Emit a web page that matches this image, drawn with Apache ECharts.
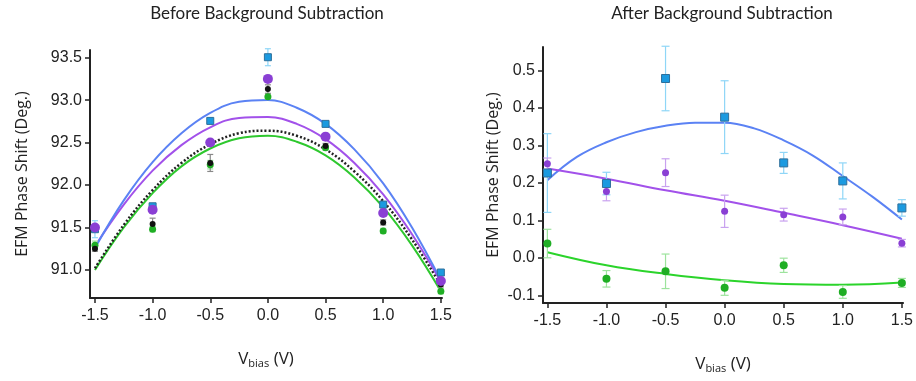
<!DOCTYPE html>
<html><head><meta charset="utf-8">
<script src="https://cdn.jsdelivr.net/npm/echarts@6/dist/echarts.min.js"></script>
<style>html,body{margin:0;padding:0;background:#fff}#c{width:916px;height:381px}</style>
</head><body><div id="c"></div>
<script>
// ---- data ----
const biasV = [-1.5, -1.0, -0.5, 0.0, 0.5, 1.0, 1.5];
const xTicks = [-1.5, -1.0, -0.5, 0.0, 0.5, 1.0, 1.5];
const leftYTicks = [91.0, 91.5, 92.0, 92.5, 93.0, 93.5];
const rightYTicks = [-0.1, 0.0, 0.1, 0.2, 0.3, 0.4, 0.5];

// Before background subtraction (measured points)
const beforeBlue   = [91.48, 91.75, 92.755, 93.505, 92.72, 91.77, 90.97];
const beforePurple = [91.50, 91.71, 92.50, 93.25, 92.57, 91.67, 90.87];
const beforeBlack  = [91.25, 91.54, 92.26, 93.13, 92.46, 91.56, 90.83];
const beforeGreen  = [91.29, 91.48, 92.24, 93.04, 92.44, 91.46, 90.75];
const beforeBlueErr   = [0.10, 0.03, 0.02, 0.10, 0.02, 0.03, 0.03];
const beforePurpleErr = [0.03, 0.03, 0.03, 0.03, 0.03, 0.03, 0.03];
const beforeBlackErr  = [0.03, 0.07, 0.10, 0.05, 0.03, 0.03, 0.03];
const beforeGreenErr  = [0.05, 0.03, 0.05, 0.03, 0.03, 0.03, 0.03];

// Before: fitted curves
const fitX = [-1.5, -1.25, -1.0, -0.75, -0.5, -0.25, 0.0, 0.25, 0.5, 0.75, 1.0, 1.25, 1.5];
const beforeBlueFit   = [91.26, 91.82, 92.27, 92.61, 92.85, 92.98, 93.00, 92.91, 92.72, 92.42, 92.02, 91.50, 90.88];
const beforePurpleFit = [91.28, 91.77, 92.17, 92.47, 92.68, 92.79, 92.80, 92.72, 92.54, 92.26, 91.89, 91.42, 90.86];
const beforeBlackFit  = [91.02, 91.53, 91.94, 92.26, 92.48, 92.61, 92.64, 92.58, 92.42, 92.16, 91.81, 91.36, 90.82];
const beforeGreenFit  = [91.00, 91.50, 91.905, 92.22, 92.43, 92.55, 92.58, 92.51, 92.35, 92.09, 91.74, 91.29, 90.75];

// After background subtraction (measured points)
const afterBlue   = [0.226, 0.198, 0.478, 0.375, 0.253, 0.205, 0.133];
const afterPurple = [0.251, 0.177, 0.227, 0.124, 0.115, 0.109, 0.039];
const afterGreen  = [0.038, -0.056, -0.036, -0.080, -0.020, -0.091, -0.067];
const afterBlueErr   = [0.105, 0.030, 0.086, 0.097, 0.028, 0.048, 0.022];
const afterPurpleErr = [0.015, 0.025, 0.037, 0.043, 0.017, 0.021, 0.010];
const afterGreenErr  = [0.038, 0.022, 0.046, 0.020, 0.019, 0.017, 0.012];

// After: fitted curves
const afterBlueFit   = [0.207, 0.269, 0.308, 0.335, 0.352, 0.360, 0.360, 0.345, 0.313, 0.272, 0.218, 0.163, 0.102];
const fitX7 = [-1.5, -1.0, -0.5, 0.0, 0.5, 1.0, 1.5];
const afterPurpleFit = [0.238, 0.211, 0.180, 0.152, 0.120, 0.087, 0.051];
const afterGreenFit  = [0.015, -0.020, -0.043, -0.060, -0.070, -0.072, -0.066];

// ---- helpers ----
const pairs = (xs, ys) => xs.map((x, i) => [x, ys[i]]);
const errData = (xs, ys, es) => xs.map((x, i) => [x, ys[i] - es[i], ys[i] + es[i]]);

function errSeries(idx, xs, ys, es, color, cap) {
  return {
    type: 'custom', xAxisIndex: idx, yAxisIndex: idx, z: 3, silent: true,
    data: errData(xs, ys, es),
    renderItem: function (params, api) {
      const lo = api.coord([api.value(0), api.value(1)]);
      const hi = api.coord([api.value(0), api.value(2)]);
      const st = { stroke: color, lineWidth: 1.2 };
      return { type: 'group', children: [
        { type: 'line', shape: { x1: lo[0], y1: lo[1], x2: hi[0], y2: hi[1] }, style: st },
        { type: 'line', shape: { x1: lo[0] - cap, y1: lo[1], x2: lo[0] + cap, y2: lo[1] }, style: st },
        { type: 'line', shape: { x1: hi[0] - cap, y1: hi[1], x2: hi[0] + cap, y2: hi[1] }, style: st }
      ]};
    }
  };
}
function fitSeries(idx, xs, ys, color, type, width) {
  return { type: 'line', xAxisIndex: idx, yAxisIndex: idx, data: pairs(xs, ys), smooth: 0.4,
    showSymbol: false, silent: true, z: 2,
    lineStyle: { color: color, width: width || 2, type: type || 'solid' } };
}
function ptSeries(idx, xs, ys, color, symbol, size, border) {
  return { type: 'scatter', xAxisIndex: idx, yAxisIndex: idx, data: pairs(xs, ys), symbol: symbol,
    symbolSize: size, z: 4, silent: true,
    itemStyle: { color: color, borderColor: border || color, borderWidth: border ? 1 : 0, opacity: 1 } };
}

const tickFont = { fontFamily: 'Liberation Sans, Arial, sans-serif', fontSize: 16, color: '#222' };
const nameFont = { fontFamily: 'Open Sans, sans-serif', fontSize: 16, color: '#222' };

function xAxisCfg(idx, min, max) {
  return {
    gridIndex: idx, type: 'value', min: min, max: max,
    axisLine: { show: true, onZero: false, lineStyle: { color: '#222', width: 2 } },
    axisTick: { show: true, length: 5, lineStyle: { color: '#222', width: 1.5 }, customValues: xTicks },
    axisLabel: Object.assign({ margin: 10, customValues: xTicks, formatter: v => v.toFixed(1) }, tickFont),
    splitLine: { show: false },
    name: '{v|V}{s|bias}{v| (V)}', nameLocation: 'middle', nameGap: 52,
    nameTextStyle: { rich: {
      v: { fontFamily: 'Open Sans, sans-serif', fontSize: 17, color: '#222' },
      s: { fontFamily: 'Open Sans, sans-serif', fontSize: 11, color: '#222', verticalAlign: 'bottom', padding: [8, 0, 0, 0] }
    } }
  };
}
function yAxisCfg(idx, min, max, ticks, gap, fmt) {
  return {
    gridIndex: idx, type: 'value', min: min, max: max,
    axisLine: { show: true, onZero: false, lineStyle: { color: '#222', width: 2 } },
    axisTick: { show: true, length: 5, lineStyle: { color: '#222', width: 1.5 }, customValues: ticks },
    axisLabel: Object.assign({ margin: 8, customValues: ticks, formatter: fmt }, tickFont),
    splitLine: { show: false },
    name: 'EFM Phase Shift (Deg.)', nameLocation: 'middle', nameGap: gap, nameRotate: 90,
    nameTextStyle: nameFont
  };
}

const option = {
  animation: false,
  backgroundColor: '#fff',
  title: [
    { text: 'Before Background Subtraction', left: 262, top: 0, textAlign: 'center',
      textStyle: { fontFamily: 'Lato, sans-serif', fontSize: 17, fontWeight: 'normal', color: '#222' } },
    { text: 'After Background Subtraction', left: 717, top: 0, textAlign: 'center',
      textStyle: { fontFamily: 'Lato, sans-serif', fontSize: 17, fontWeight: 'normal', color: '#222' } }
  ],
  grid: [
    { left: 90, right: 474, top: 50, bottom: 83 },
    { left: 543, right: 12, top: 47, bottom: 78 }
  ],
  xAxis: [ xAxisCfg(0, -1.543, 1.51), xAxisCfg(1, -1.537, 1.51) ],
  yAxis: [
    yAxisCfg(0, 90.67, 93.59, leftYTicks, 60, v => v.toFixed(1)),
    yAxisCfg(1, -0.1205, 0.562, rightYTicks, 42, v => v.toFixed(1))
  ],
  series: [
    // left
    fitSeries(0, fitX, beforeGreenFit, '#2ec82e', 'solid', 2),
    fitSeries(0, fitX, beforeBlackFit, '#222', [2, 2], 2.5),
    fitSeries(0, fitX, beforePurpleFit, '#a251ea', 'solid', 2),
    fitSeries(0, fitX, beforeBlueFit, '#5b82f4', 'solid', 2),
    errSeries(0, biasV, beforeBlue, beforeBlueErr, '#8fd6f7', 3),
    errSeries(0, biasV, beforeGreen, beforeGreenErr, '#9de39d', 3),
    errSeries(0, biasV, beforeBlack, beforeBlackErr, '#888', 3),
    errSeries(0, biasV, beforePurple, beforePurpleErr, '#c9a2ef', 3),
    ptSeries(0, biasV, beforeBlue, '#1b9ae0', 'rect', 7, '#2f6f9a'),
    ptSeries(0, biasV, beforeGreen, '#1fae24', 'circle', 7),
    ptSeries(0, biasV, beforeBlack, '#111', 'circle', 6),
    ptSeries(0, biasV, beforePurple, '#8a3fd4', 'circle', 10),
    // right
    fitSeries(1, fitX, afterBlueFit, '#5b82f4', 'solid', 2),
    fitSeries(1, fitX7, afterPurpleFit, '#a251ea', 'solid', 2),
    fitSeries(1, fitX7, afterGreenFit, '#2bd42b', 'solid', 2),
    errSeries(1, biasV, afterBlue, afterBlueErr, '#8fd6f7', 4),
    errSeries(1, biasV, afterPurple, afterPurpleErr, '#c9a2ef', 4),
    errSeries(1, biasV, afterGreen, afterGreenErr, '#9de39d', 4),
    ptSeries(1, biasV, afterBlue, '#1b9ae0', 'rect', 8, '#2f6f9a'),
    ptSeries(1, biasV, afterPurple, '#8a3fd4', 'circle', 7),
    ptSeries(1, biasV, afterGreen, '#1fae24', 'circle', 8)
  ]
};
const chart = echarts.init(document.getElementById('c'), null, { renderer: 'canvas' });
chart.setOption(option);
</script>
</body></html>
